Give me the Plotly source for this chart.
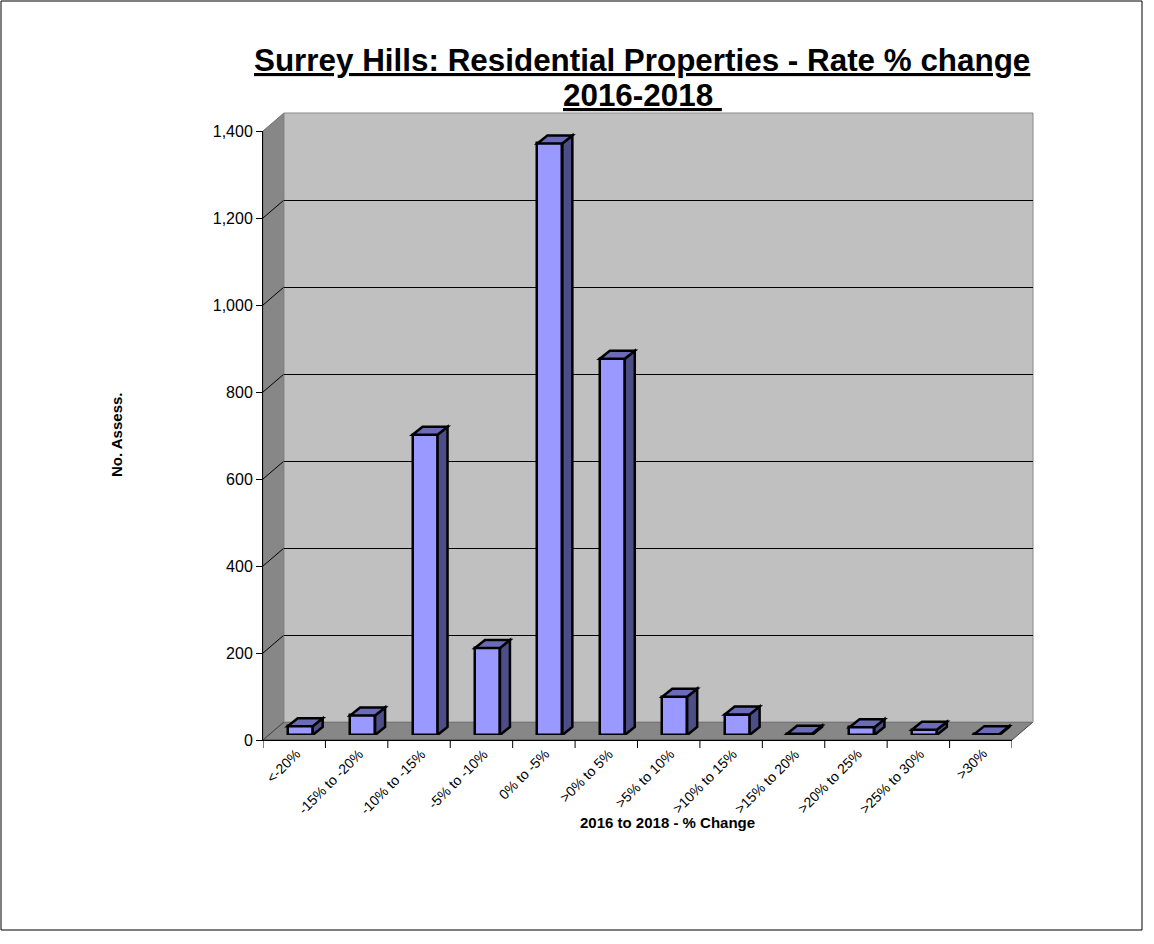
import plotly.graph_objects as go

# ---- data -------------------------------------------------------------
CATEGORIES = ["<-20%", "-15% to -20%", "-10% to -15%", "-5% to -10%", "0% to -5%",
              ">0% to 5%", ">5% to 10%", ">10% to 15%", ">15% to 20%", ">20% to 25%",
              ">25% to 30%", ">30%"]
COUNTS = [20, 45, 690, 200, 1360, 865, 88, 47, 3, 18, 12, 2]
Y_TICKS = [0, 200, 400, 600, 800, 1000, 1200, 1400]
TITLE_LINES = ["Surrey Hills: Residential Properties - Rate % change", "2016-2018 "]
X_TITLE = "2016 to 2018 - % Change"
Y_TITLE = "No. Assess."

# ---- layout geometry (pixels) -------------------------------------------
FIG_W, FIG_H = 1154, 944
L, R, T, B = 263, 1033, 113, 740          # plot area incl. 3-D depth
W, H = R - L, B - T
DX, DY = 21, 18                           # wall depth offset
BX, BY = 6, 5                             # bar plane offset from front
BDX, BDY = 10, 8                          # bar depth
X_TICK_LEN = 8
Y_MAX = 1400
BAR_W = 0.4                               # bar width, category units
N = len(CATEGORIES)

PX_PER_UNIT = (H - DY) / Y_MAX
CAT_PX = (W - DX) / N
BAR_PX = BAR_W * CAT_PX
DEPTH_UNITS = BDY / PX_PER_UNIT


def px_x(px):
    return (px - L) / W


def px_y(py):
    return (B - py) / H


FONT = "Liberation Sans, Arial, sans-serif"
FRONT_COL = "#9999FF"
TOP_COL = "#6B6BBA"
SIDE_COL = "#4D4D88"
WALL_COL = "#C0C0C0"
FLOOR_COL = "#878787"

fig = go.Figure()

# empty traces so the front and back-wall subplots are created
fig.add_trace(go.Scatter(x=[], y=[], xaxis="x", yaxis="y", showlegend=False))
fig.add_trace(go.Scatter(x=[], y=[], xaxis="x2", yaxis="y2", showlegend=False))
# bar front faces
fig.add_trace(go.Bar(x=CATEGORIES, y=COUNTS, width=BAR_W, xaxis="x3", yaxis="y3",
                     marker=dict(color=FRONT_COL, line=dict(color="black", width=2.5)),
                     showlegend=False, hoverinfo="x+y"))

shapes = []

# side wall and floor
front_top = (H - DY) / H
shapes.append(dict(type="path", xref="paper", yref="paper", layer="below",
                   path=f"M 0,0 L 0,{front_top} L {DX / W},1 L {DX / W},{DY / H} Z",
                   fillcolor=FLOOR_COL, line=dict(color="#707070", width=1)))
shapes.append(dict(type="path", xref="paper", yref="paper", layer="below",
                   path=f"M 0,0 L {(W - DX) / W},0 L 1,{DY / H} L {DX / W},{DY / H} Z",
                   fillcolor=FLOOR_COL, line=dict(color="#404040", width=1)))
# side-wall diagonals joining the front ticks to the back gridlines
for t in Y_TICKS[1:-1]:
    yf = t * PX_PER_UNIT / H
    shapes.append(dict(type="line", xref="paper", yref="paper", layer="below",
                       x0=0, y0=yf, x1=DX / W, y1=yf + DY / H,
                       line=dict(color="black", width=1)))

# category boundary tick marks below the front x axis
for k in range(N + 1):
    shapes.append(dict(type="line", xref="x", yref="paper", layer="above",
                       x0=k - 0.5, x1=k - 0.5, y0=0, y1=-X_TICK_LEN / H,
                       line=dict(color="black", width=1)))

# back wall
shapes.append(dict(type="rect", xref="x2 domain", yref="y2 domain", layer="below",
                   x0=0, y0=0, x1=1, y1=1, fillcolor=WALL_COL,
                   line=dict(color="#8a8a8a", width=1)))

# bar side and top faces
for i, v in enumerate(COUNTS):
    right = i + BAR_W / 2
    shapes.append(dict(type="path", xref="x3", yref="y3", layer="above",
                       xsizemode="pixel", xanchor=right,
                       path=(f"M 0,0 L 0,{v} L {BDX},{v + DEPTH_UNITS} "
                             f"L {BDX},{DEPTH_UNITS} Z"),
                       fillcolor=SIDE_COL, line=dict(color="black", width=2.5)))
    shapes.append(dict(type="path", xref="x3", yref="y3", layer="above",
                       xsizemode="pixel", xanchor=right,
                       path=(f"M 0,{v} L {-BAR_PX},{v} L {-BAR_PX + BDX},{v + DEPTH_UNITS} "
                             f"L {BDX},{v + DEPTH_UNITS} Z"),
                       fillcolor=TOP_COL, line=dict(color="black", width=2.5)))

# outer frame
shapes.append(dict(type="rect", xref="paper", yref="paper", layer="above",
                   x0=px_x(1), x1=px_x(1142), y0=px_y(930), y1=px_y(1),
                   line=dict(color="black", width=1), fillcolor="rgba(0,0,0,0)"))

TITLE_FONT = dict(family=FONT, size=31.4, color="black", weight="bold",
                  lineposition="under")
annotations = [
    dict(text=TITLE_LINES[0], x=px_x(642), y=px_y(60), xref="paper", yref="paper",
         showarrow=False, xanchor="center", yanchor="middle", font=TITLE_FONT),
    dict(text=TITLE_LINES[1], x=px_x(642), y=px_y(95), xref="paper", yref="paper",
         showarrow=False, xanchor="center", yanchor="middle", font=TITLE_FONT),
    dict(text=f"<b>{X_TITLE}</b>", x=px_x(667), y=px_y(822), xref="paper", yref="paper",
         showarrow=False, xanchor="center", yanchor="middle",
         font=dict(family=FONT, size=15, color="black")),
    dict(text=f"<b>{Y_TITLE}</b>", x=px_x(117), y=px_y(435), xref="paper", yref="paper",
         showarrow=False, xanchor="center", yanchor="middle", textangle=-90,
         font=dict(family=FONT, size=15, color="black")),
]
# slanted category labels under each category centre
for i, cat in enumerate(CATEGORIES):
    annotations.append(dict(text=cat, x=i, y=px_y(743), xref="x", yref="paper",
                            xshift=12, showarrow=False, textangle=-45,
                            xanchor="right", yanchor="top",
                            font=dict(family=FONT, size=14, color="black")))

front_x = [0, (W - DX) / W]
front_y = [0, (H - DY) / H]
back_x = [DX / W, 1]
back_y = [DY / H, 1]
bar_x = [BX / W, (BX + W - DX) / W]
bar_y = [BY / H, (BY + H - DY) / H]

fig.update_layout(
    width=FIG_W, height=FIG_H,
    margin=dict(l=L, r=FIG_W - R, t=T, b=FIG_H - B, autoexpand=False),
    paper_bgcolor="white", plot_bgcolor="rgba(0,0,0,0)",
    showlegend=False, bargap=0,
    xaxis=dict(range=[-0.5, N - 0.5], domain=front_x, anchor="y", showline=True,
               linecolor="black", linewidth=1, ticks="", showticklabels=False,
               showgrid=False, zeroline=False),
    yaxis=dict(range=[0, Y_MAX], domain=front_y, anchor="x", showline=True,
               linecolor="black", linewidth=1, ticks="outside", ticklen=6,
               tickcolor="black", tickvals=Y_TICKS, tickformat=",", showgrid=False,
               zeroline=False, tickfont=dict(family=FONT, size=16, color="black")),
    xaxis2=dict(range=[0, 1], domain=back_x, anchor="y2", visible=False),
    yaxis2=dict(range=[0, Y_MAX], domain=back_y, anchor="x2", tickvals=Y_TICKS[1:-1],
                showgrid=True, gridcolor="black", gridwidth=1, showticklabels=False,
                ticks="", showline=False, zeroline=False),
    xaxis3=dict(type="category", categoryorder="array", categoryarray=CATEGORIES,
                range=[-0.5, N - 0.5], domain=bar_x, anchor="y3", visible=False),
    yaxis3=dict(range=[0, Y_MAX], domain=bar_y, anchor="x3", visible=False),
    shapes=shapes,
    annotations=annotations,
)

fig.write_html("out.html")
